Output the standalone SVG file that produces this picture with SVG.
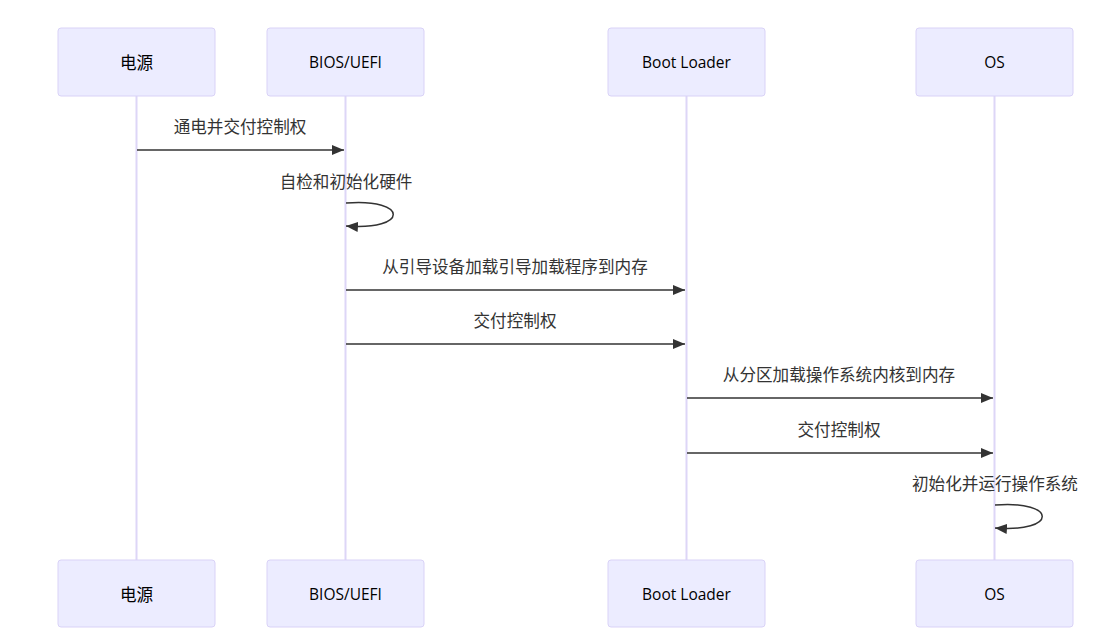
<svg xmlns="http://www.w3.org/2000/svg" width="1108" height="643" viewBox="0 0 1108 643">
<defs>
<marker id="arrow" viewBox="0 0 12 10" refX="12" refY="5" markerWidth="12" markerHeight="10" markerUnits="userSpaceOnUse" orient="auto">
<path d="M0,0 L12,5 L0,10 z" fill="#333"/>
</marker>
<style>
.actor{fill:#ECECFF;stroke:#d9d2f7;stroke-width:1}
.alabel{font-family:"Open Sans","Noto Sans CJK SC",sans-serif;font-weight:500;font-size:15.5px;fill:#000;text-anchor:middle;dominant-baseline:central}
.cjk{font-family:"Noto Sans CJK SC",sans-serif;font-weight:400;font-size:16.6px}
.life{stroke:#ddd6f7;stroke-width:2}
.msg{stroke:#333;stroke-width:1.5;fill:none}
.mtext{font-family:"Liberation Sans","Noto Sans CJK SC",sans-serif;font-size:16.6px;fill:#333;text-anchor:middle;dominant-baseline:central}
</style>
</defs>
<rect width="1108" height="643" fill="#fff"/>
<g id="lifelines">
<line class="life" x1="136.5" y1="96" x2="136.5" y2="560"/>
<line class="life" x1="345.5" y1="96" x2="345.5" y2="560"/>
<line class="life" x1="686.5" y1="96" x2="686.5" y2="560"/>
<line class="life" x1="994.5" y1="96" x2="994.5" y2="560"/>
</g>
<g id="power-top"><rect class="actor" x="58" y="28" width="157" height="68" rx="3"/><text class="alabel cjk" x="136.5" y="62">电源</text></g>
<g id="bios-top"><rect class="actor" x="267" y="28" width="157" height="68" rx="3"/><text class="alabel" x="345.5" y="62">BIOS/UEFI</text></g>
<g id="bootloader-top"><rect class="actor" x="608" y="28" width="157" height="68" rx="3"/><text class="alabel" x="686.5" y="62">Boot Loader</text></g>
<g id="os-top"><rect class="actor" x="916" y="28" width="157" height="68" rx="3"/><text class="alabel" x="994.5" y="62">OS</text></g>
<g id="power-bottom"><rect class="actor" x="58" y="560" width="157" height="67" rx="3"/><text class="alabel cjk" x="136.5" y="594">电源</text></g>
<g id="bios-bottom"><rect class="actor" x="267" y="560" width="157" height="67" rx="3"/><text class="alabel" x="345.5" y="594">BIOS/UEFI</text></g>
<g id="bootloader-bottom"><rect class="actor" x="608" y="560" width="157" height="67" rx="3"/><text class="alabel" x="686.5" y="594">Boot Loader</text></g>
<g id="os-bottom"><rect class="actor" x="916" y="560" width="157" height="67" rx="3"/><text class="alabel" x="994.5" y="594">OS</text></g>
<g id="connectors">
<text class="mtext" x="240" y="127">通电并交付控制权</text>
<line class="msg" x1="137" y1="150" x2="344" y2="150" marker-end="url(#arrow)"/>
<text class="mtext" x="346" y="182">自检和初始化硬件</text>
<path class="msg" d="M346,203 C409,198 409,231 346,226" marker-end="url(#arrow)"/>
<text class="mtext" x="515" y="267">从引导设备加载引导加载程序到内存</text>
<line class="msg" x1="346" y1="290" x2="685" y2="290" marker-end="url(#arrow)"/>
<text class="mtext" x="515" y="321">交付控制权</text>
<line class="msg" x1="346" y1="344" x2="685" y2="344" marker-end="url(#arrow)"/>
<text class="mtext" x="839" y="375">从分区加载操作系统内核到内存</text>
<line class="msg" x1="687" y1="398" x2="993" y2="398" marker-end="url(#arrow)"/>
<text class="mtext" x="839" y="430">交付控制权</text>
<line class="msg" x1="687" y1="453" x2="993" y2="453" marker-end="url(#arrow)"/>
<text class="mtext" x="995" y="484">初始化并运行操作系统</text>
<path class="msg" d="M995,505 C1058,500 1058,533 995,528" marker-end="url(#arrow)"/>
</g>
</svg>
